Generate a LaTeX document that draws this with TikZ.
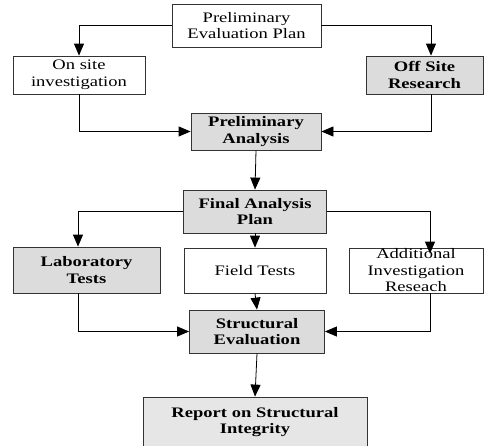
\documentclass[tikz,border=0pt]{standalone}
\usepackage{fontspec}
\setmainfont{Liberation Serif}[FakeStretch=1.28]
\usetikzlibrary{arrows.meta}
\definecolor{boxgray}{HTML}{DCDCDC}
\definecolor{lightgray}{HTML}{E6E6E6}
\definecolor{edge}{HTML}{333333}

\begin{document}
\begin{tikzpicture}[x=1pt,y=-1pt,
    every node/.style={draw=edge,line width=0.8pt,align=center,inner sep=0pt,
      font=\fontsize{14.5}{16.5}\selectfont},
    plain/.style={fill=white},
    shaded/.style={fill=boxgray,font=\fontsize{14.5}{16.5}\selectfont\bfseries},
    link/.style={draw=black,line width=0.8pt,-{Triangle[length=12pt,width=10pt]}}]
      \useasboundingbox (0,0) rectangle (484,445);
      \draw
        (246.5,25.5) node[plain,minimum width=149pt,minimum height=43pt] (pep) {Preliminary\\Evaluation Plan}
        (79,75) node[plain,minimum width=132pt,minimum height=38pt] (onsite) {On site\\investigation}
        (424.5,75) node[shaded,minimum width=117pt,minimum height=38pt] (offsite) {Off Site\\Research}
        (256,131.5) node[shaded,minimum width=130pt,minimum height=37pt] (prelan) {Preliminary\\Analysis};
      \draw
        (255,211.5) node[shaded,minimum width=143pt,minimum height=43pt] (final) {Final Analysis\\Plan}
        (86.5,270) node[shaded,minimum width=147pt,minimum height=46pt] (lab) {Laboratory\\Tests}
        (255,270.5) node[plain,minimum width=142pt,minimum height=45pt] (field) {Field Tests}
        (416,270.5) node[plain,minimum width=134pt,minimum height=45pt] (addl) {Additional\\Investigation\\Reseach};
      \draw
        (257,331.5) node[shaded,minimum width=135pt,minimum height=43pt] (struct) {Structural\\Evaluation}
        (255,422) node[shaded,fill=lightgray,minimum width=224pt,minimum height=50pt] (report) {Report on Structural\\Integrity};
      \draw[link] (pep.west) -| (onsite.north);
      \draw[link] (pep.east) -| ([xshift=6.5pt]offsite.north);
      \draw[link] (onsite.south) |- (prelan.west);
      \draw[link] ([xshift=6.5pt]offsite.south) |- (prelan.east);
      \draw[link] (prelan.south) -- (final.north);
      \draw[link] (final.west) -| ([xshift=-8.5pt]lab.north);
      \draw[link] (final.south) -- (field.north);
      \draw[link] (final.east) -| ([xshift=14pt,yshift=-6pt]addl.north);
      \draw[link] ([xshift=-8.5pt]lab.south) |- (struct.west);
      \draw[link] (field.south) -- (struct.north);
      \draw[link] ([xshift=14pt]addl.south) |- (struct.east);
      \draw[link] (struct.south) -- (report.north);
    \end{tikzpicture}
\end{document}
